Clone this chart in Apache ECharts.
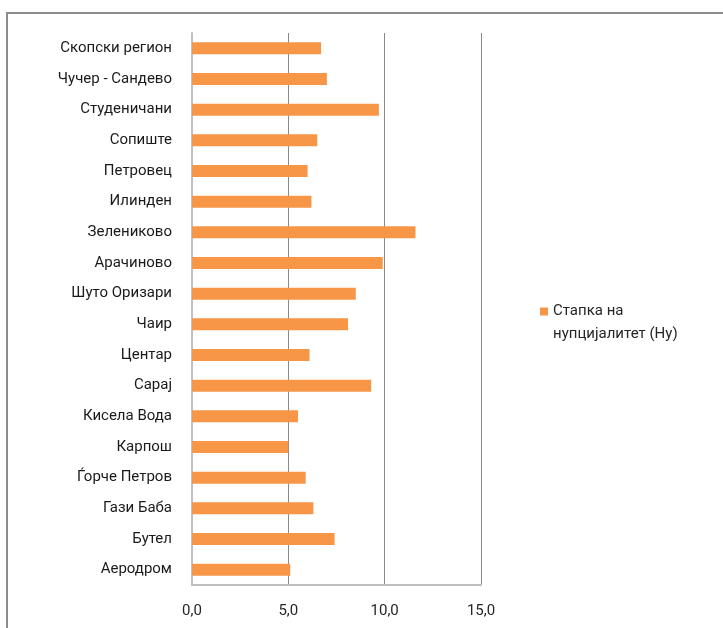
<!DOCTYPE html>
<html>
<head>
<meta charset="utf-8">
<script src="https://cdn.jsdelivr.net/npm/echarts@6/dist/echarts.min.js"></script>
<style>
  html, body { margin: 0; padding: 0; background: #fff; }
  #chart { width: 723px; height: 628px; }
</style>
</head>
<body>
<div id="chart"></div>
<script>
var categories = [
  "Скопски регион", "Чучер - Сандево", "Студеничани", "Сопиште", "Петровец",
  "Илинден", "Зелениково", "Арачиново", "Шуто Оризари", "Чаир", "Центар",
  "Сарај", "Кисела Вода", "Карпош", "Ѓорче Петров", "Гази Баба", "Бутел", "Аеродром"
];
var nuptiality = [6.7, 7.0, 9.7, 6.5, 6.0, 6.2, 11.6, 9.9, 8.5, 8.1, 6.1, 9.3, 5.5, 5.0, 5.9, 6.3, 7.4, 5.1];
var seriesName = "Стапка на нупцијалитет (Ну)";

var chartDom = document.getElementById("chart");
var myChart = echarts.init(chartDom);
var option = {
  animation: false,
  textStyle: { fontFamily: "Roboto" },
  graphic: [
    {
      type: "rect",
      shape: { x: 7, y: 13, width: 800, height: 700 },
      style: { fill: "none", stroke: "#8c8c8c", lineWidth: 2 }
    }
  ],
  grid: { left: 192, right: 242, top: 33, bottom: 43, containLabel: false },
  legend: {
    left: 535,
    top: 272,
    orient: "vertical",
    icon: "rect",
    itemWidth: 8,
    itemHeight: 8,
    // leading blank line keeps the first text line level with the icon
    formatter: function () { return "\nСтапка на\nнупцијалитет (Ну)"; },
    textStyle: { fontSize: 15, color: "#262626", lineHeight: 23 }
  },
  xAxis: {
    type: "value",
    min: 0,
    max: 15,
    interval: 5,
    axisLine: { show: true, lineStyle: { color: "#c0c0c0", width: 2 } },
    axisTick: { show: false },
    axisLabel: {
      margin: 19,
      fontSize: 15,
      color: "#262626",
      formatter: function (v) { return v.toFixed(1).replace(".", ","); }
    },
    splitLine: { show: true, lineStyle: { color: "#8a8a8a", width: 1 } }
  },
  yAxis: {
    type: "category",
    data: categories,
    inverse: true,
    axisLine: { show: true, lineStyle: { color: "#c0c0c0", width: 2 } },
    axisTick: { show: false },
    axisLabel: { margin: 20, fontSize: 15, color: "#1a1a1a" }
  },
  series: [
    {
      name: seriesName,
      type: "bar",
      data: nuptiality,
      barWidth: 12,
      itemStyle: { color: "#F79646" }
    }
  ]
};
option && myChart.setOption(option);
</script>
</body>
</html>
